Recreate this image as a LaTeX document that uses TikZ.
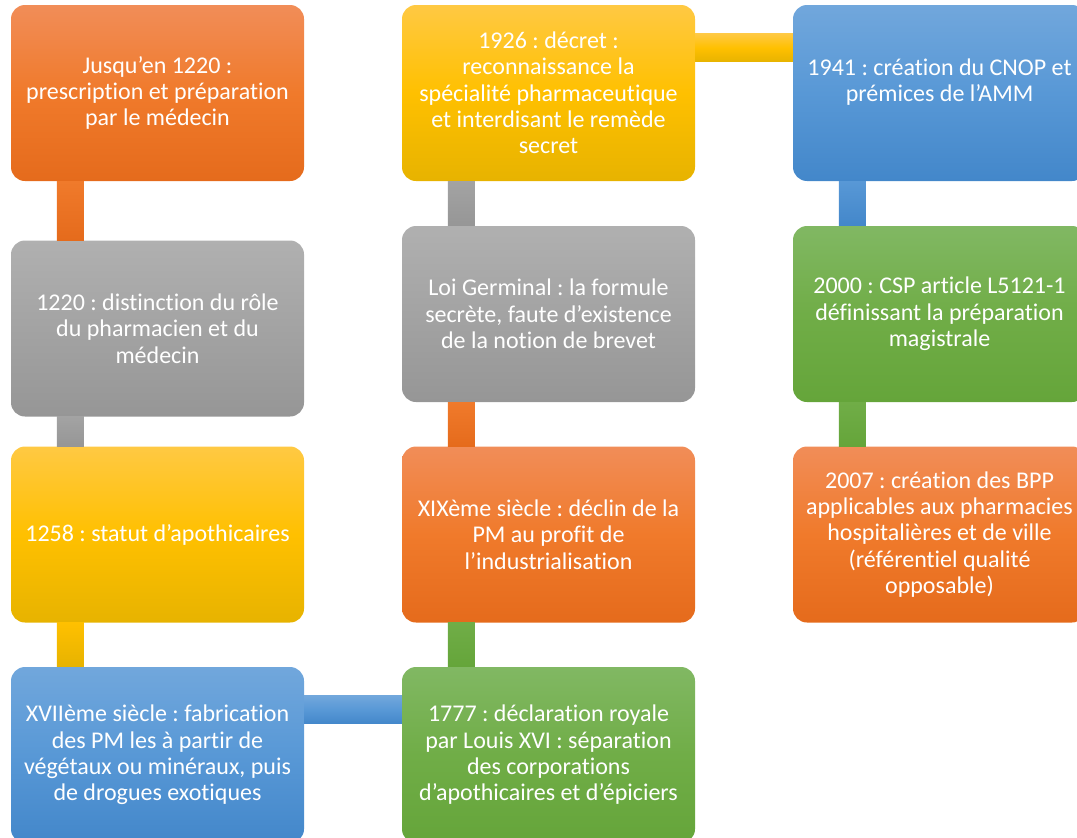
\documentclass[tikz,border=0pt]{standalone}
\usepackage{fontspec}
\setmainfont[Ligatures=NoCommon]{Carlito}
\frenchspacing

\definecolor{orT}{HTML}{F18D58}\definecolor{orM}{HTML}{F07A2B}\definecolor{orB}{HTML}{E56B1C}
\definecolor{grT}{HTML}{B0B0B0}\definecolor{grM}{HTML}{A3A3A3}\definecolor{grB}{HTML}{969696}
\definecolor{yeT}{HTML}{FFC943}\definecolor{yeM}{HTML}{FFC000}\definecolor{yeB}{HTML}{E7B300}
\definecolor{blT}{HTML}{71A7DC}\definecolor{blM}{HTML}{5898D6}\definecolor{blB}{HTML}{4387CA}
\definecolor{gnT}{HTML}{81B863}\definecolor{gnM}{HTML}{70AD47}\definecolor{gnB}{HTML}{65A53A}

\begin{document}
\begin{tikzpicture}[x=1pt,y=-1pt,
  box/.style={rounded corners=14pt,minimum width=293pt,minimum height=176pt,
    inner sep=0pt,align=center,text=white,font=\fontsize{24}{26.3}\selectfont\frenchspacing},
  orbox/.style={box,top color=orT,bottom color=orB,middle color=orM},
  grbox/.style={box,top color=grT,bottom color=grB,middle color=grM},
  yebox/.style={box,top color=yeT,bottom color=yeB,middle color=yeM},
  blbox/.style={box,top color=blT,bottom color=blB,middle color=blM},
  gnbox/.style={box,top color=gnT,bottom color=gnB,middle color=gnM}]

  \useasboundingbox (0,0) rectangle (1077,838);

  % Columns
  \def\ca{157.5}\def\cb{548.5}\def\cc{939.5}

  % First column
  \node[orbox] (avant) at (\ca,93) {Jusqu’en 1220 :\\prescription et préparation\\par le médecin};
  \node[grbox] (distinction) at (\ca,328.5) {1220 : distinction du rôle\\du pharmacien et du\\médecin};
  \node[yebox] (statut) at (\ca,534.5) {1258 : statut d’apothicaires};
  \node[blbox] (fabrication) at (\ca,755) {XVIIème siècle : fabrication\\des PM les à partir de\\végétaux ou minéraux, puis\\de drogues exotiques};

  % Second column
  \node[gnbox] (declaration) at (\cb,755) {1777 : déclaration royale\\par Louis XVI : séparation\\des corporations\\d’apothicaires et d’épiciers};
  \node[orbox] (declin) at (\cb,534.5) {XIXème siècle : déclin de la\\PM au profit de\\l’industrialisation};
  \node[grbox] (germinal) at (\cb,314) {Loi Germinal : la formule\\secrète, faute d’existence\\de la notion de brevet};
  \node[yebox] (decret) at (\cb,93) {1926 : décret :\\reconnaissance la\\spécialité pharmaceutique\\et interdisant le remède\\secret};

  % Third column
  \node[blbox] (cnop) at (\cc,93) {1941 : création du CNOP et\\prémices de l’AMM\\\mbox{}};
  \node[gnbox] (csp) at (\cc,314) {2000 : CSP article L5121-1\\définissant la préparation\\magistrale};
  \node[orbox] (bpp) at (\cc,534.5) {2007 : création des BPP\\applicables aux pharmacies\\hospitalières et de ville\\(référentiel qualité\\opposable)};

  % Links
  \def\la{46pt}\def\lb{73pt}
  \fill[top color=orM,bottom color=orB] ([xshift=\la]avant.south west) rectangle ([xshift=\lb]distinction.north west);
  \fill[top color=grM,bottom color=grB] ([xshift=\la]distinction.south west) rectangle ([xshift=\lb]statut.north west);
  \fill[top color=yeM,bottom color=yeB] ([xshift=\la]statut.south west) rectangle ([xshift=\lb]fabrication.north west);
  \fill[top color=blT,bottom color=blB,middle color=blM] ([yshift=-29pt]fabrication.north east) rectangle ([yshift=-57pt]declaration.north west);
  \fill[top color=gnM,bottom color=gnB] ([xshift=\la]declaration.north west) rectangle ([xshift=\lb]declin.south west);
  \fill[top color=orM,bottom color=orB] ([xshift=\la]declin.north west) rectangle ([xshift=\lb]germinal.south west);
  \fill[top color=grM,bottom color=grB] ([xshift=\la]germinal.north west) rectangle ([xshift=\lb]decret.south west);
  \fill[top color=yeT,bottom color=yeB,middle color=yeM] ([yshift=-29pt]decret.north east) rectangle ([yshift=-57pt]cnop.north west);
  \fill[top color=blM,bottom color=blB] ([xshift=\la]cnop.south west) rectangle ([xshift=\lb]csp.north west);
  \fill[top color=gnM,bottom color=gnB] ([xshift=\la]csp.south west) rectangle ([xshift=\lb]bpp.north west);

\end{tikzpicture}
\end{document}
